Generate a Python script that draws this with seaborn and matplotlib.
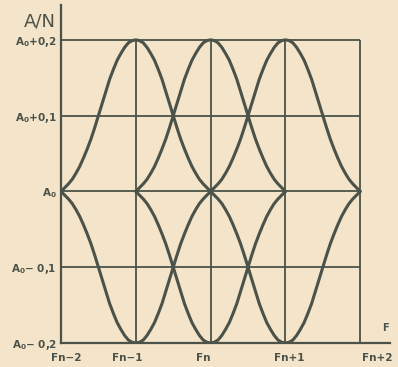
import numpy as np
import pandas as pd
import matplotlib
matplotlib.use("Agg")
import matplotlib.pyplot as plt
import matplotlib.transforms as mtransforms
import seaborn as sns

# Lobe profile: distance from the lobe centre (in channel steps) and deviation from A0
offsets = [0.00, 0.05, 0.10, 0.15, 0.20, 0.25, 0.30, 0.35, 0.40, 0.45, 0.50,
           0.55, 0.60, 0.65, 0.70, 0.75, 0.80, 0.85, 0.90, 0.95, 1.00]
deviation = [0.200, 0.199, 0.196, 0.190, 0.182, 0.173, 0.161, 0.148, 0.132, 0.116, 0.100,
             0.084, 0.069, 0.056, 0.044, 0.033, 0.024, 0.016, 0.010, 0.005, 0.000]

# Lobe centres (channel index relative to Fn) and direction (+ above A0, - below)
centres = [-1, 0, 1]
directions = [1, -1]

x_ticks = [-2, -1, 0, 1, 2]
x_labels = ["Fn\u22122", "Fn\u22121", "Fn", "Fn+1", "Fn+2"]
y_ticks = [-0.2, -0.1, 0.0, 0.1, 0.2]
y_labels = [r"A$_\mathbf{0}$\u2212 0,2", r"A$_\mathbf{0}$\u2212 0,1", r"A$_\mathbf{0}$",
            r"A$_\mathbf{0}$+0,1", r"A$_\mathbf{0}$+0,2"]
y_labels = [s.replace("\\u2212", "\u2212") for s in y_labels]

ink = "#4b5249"
paper = "#f4e4c9"

rows = []
for c in centres:
    for s in directions:
        # mirror the half profile to obtain a full lobe
        xs = [c - o for o in offsets[::-1]] + [c + o for o in offsets[1:]]
        ys = [s * d for d in deviation[::-1]] + [s * d for d in deviation[1:]]
        for x, y in zip(xs, ys):
            rows.append({"F": x, "A": y, "lobe": f"{c}_{s}"})
df = pd.DataFrame(rows)

sns.set_style("white", {"axes.facecolor": paper, "figure.facecolor": paper})
fig = plt.figure(figsize=(3.98, 3.67), dpi=100)
ax = fig.add_axes([0.1533, 0.0654, 0.827, 0.921])

# grid limited to the frame of the chart
for y in y_ticks[1:]:
    ax.hlines(y, -2, 2, color=ink, lw=1.3, zorder=1)
for x in x_ticks[1:]:
    ax.vlines(x, -0.2, 0.2, color=ink, lw=1.3, zorder=1)

sns.lineplot(data=df, x="F", y="A", units="lobe", estimator=None, sort=False,
             color=ink, lw=2.2, ax=ax, zorder=3)

ax.set_xlim(-2, 2.40)
ax.set_ylim(-0.2, 0.246)
for side in ["top", "right"]:
    ax.spines[side].set_visible(False)
for side in ["left", "bottom"]:
    ax.spines[side].set_color(ink)
    ax.spines[side].set_linewidth(1.6)

ax.set_xticks(x_ticks)
ax.set_xticklabels(x_labels, fontsize=7.5, fontweight="bold", color=ink)
ax.set_yticks(y_ticks)
ax.set_yticklabels(y_labels, fontsize=7.5, fontweight="bold", color=ink)
ax.tick_params(axis="both", length=0)
ax.tick_params(axis="x", pad=7)
ax.tick_params(axis="y", pad=3)
ax.set_xlabel("")
ax.set_ylabel("")

# hand-lettered labels sit slightly off their grid lines
label_shift = [5, -9, -7, 4, 17]
for lab, dx in zip(ax.get_xticklabels(), label_shift):
    lab.set_transform(lab.get_transform() +
                      mtransforms.ScaledTranslation(dx / 100, 0, fig.dpi_scale_trans))

ax.text(-0.016, 0.978, "A/N", transform=ax.transAxes, ha="right", va="top",
        fontsize=13, color=ink)
ax.text(0.985, 0.045, "F", transform=ax.transAxes, ha="center", va="center",
        fontsize=7, fontweight="bold", color=ink)

fig.savefig("out.png", dpi=100, facecolor=paper)
